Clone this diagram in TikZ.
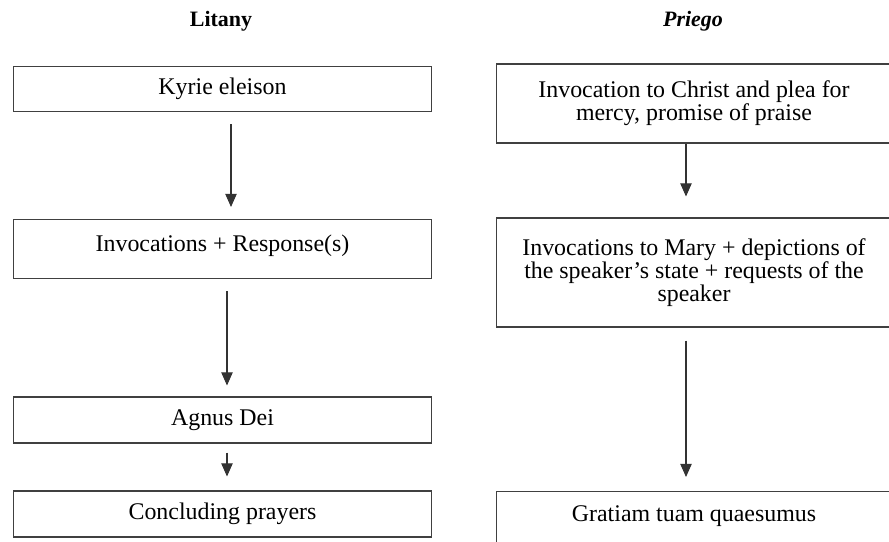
\documentclass[tikz,border=0pt]{standalone}
\usepackage{fontspec}
\setmainfont{Liberation Serif}
\usetikzlibrary{arrows.meta}
\usetikzlibrary{positioning}

\begin{document}
\begin{tikzpicture}
        [x = 0.02cm, y = -0.02cm,
        box/.style = {rectangle, draw = black!75, line width = 0.6pt, align = center, inner sep = 0pt,
            font = {\fontsize{13.6}{13.1}\selectfont}},
        lbox/.style = {box, minimum width = 8.38cm},
        rbox/.style = {box, minimum width = 7.92cm},
        head/.style = {font = {\fontsize{12.5}{13.2}\selectfont\bfseries}},
        arr/.style = {-{Triangle[length = 7.5pt, width = 6.5pt]}, draw = black!80, line width = 0.6pt}]
        \useasboundingbox (0, 0) rectangle (889, 541);
        \clip (0, 0) rectangle (889, 541);
        % headings
        \node (litany) [head] at (221, 21) {Litany};
        \node (priego) [head] at (693, 21) {\itshape Priego};
        % litany column
        \node (kyrie) [lbox, minimum height = 0.9cm] at (222.5, 89) {Kyrie eleison};
        \node (invoc) [lbox, anchor = north, text height = 0.32cm, text depth = 0.24cm, inner ysep = 0.31cm] at (222.5, 219) {Invocations + Response(s)};
        \node (agnus) [lbox, minimum height = 0.92cm] at (222.5, 420) {Agnus Dei};
        \node (concl) [lbox, minimum height = 0.92cm] at (222.5, 514) {Concluding prayers};
        % priego column
        \node (christ) [rbox, minimum height = 1.58cm] at (694, 103.5) {Invocation to Christ and plea for\\ mercy, promise of praise};
        \node (mary) [rbox, minimum height = 2.18cm] at (694, 272.5) {Invocations to Mary + depictions of\\ the speaker’s state + requests of the\\ speaker};
        \node (gratiam) [rbox, anchor = north, text height = 0.32cm, text depth = 1.5cm, inner ysep = 0.27cm] at (694, 491) {Gratiam tuam quaesumus};
        \draw[arr, shorten <= 0.24cm, shorten >= 0.24cm] ([xshift = 0.17cm]kyrie.south) -- ([xshift = 0.17cm]invoc.north);
        \draw[arr, shorten <= 0.24cm, shorten >= 0.22cm] ([xshift = 0.09cm]invoc.south) -- ([xshift = 0.09cm]agnus.north);
        \draw[arr, shorten <= 0.18cm, shorten >= 0.28cm] ([xshift = 0.09cm]agnus.south) -- ([xshift = 0.09cm]concl.north);
        \draw[arr, shorten >= 0.42cm] ([xshift = -0.16cm]christ.south) -- ([xshift = -0.16cm]mary.north);
        \draw[arr, shorten <= 0.26cm, shorten >= 0.28cm] ([xshift = -0.16cm]mary.south) -- ([xshift = -0.16cm]gratiam.north);
    \end{tikzpicture}
\end{document}
